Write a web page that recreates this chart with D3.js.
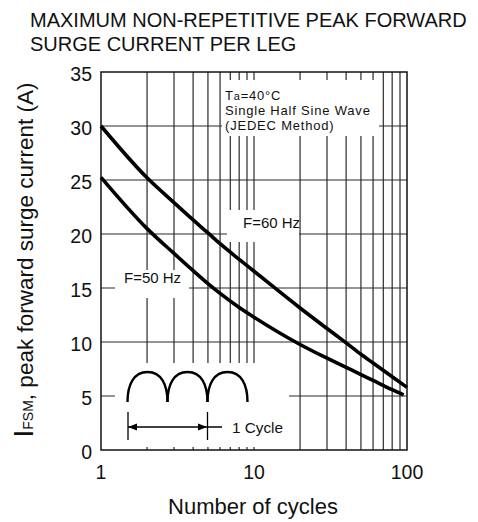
<!DOCTYPE html>
<html>
<head>
<meta charset="utf-8">
<script src="https://cdn.jsdelivr.net/npm/d3@7"></script>
<style>
  html, body { margin: 0; padding: 0; background: #fff; }
  svg { display: block; }
  text { font-family: "Liberation Sans", Arial, Helvetica, sans-serif; fill: #111; }
</style>
</head>
<body>
<svg id="chart" width="478" height="522"></svg>
<script>
// ---- data ----
const titleLines = ["MAXIMUM NON-REPETITIVE PEAK FORWARD", "SURGE CURRENT PER LEG"];
const xTickValues = [1, 10, 100];
const xTickLabels = ["1", "10", "100"];
const yTickValues = [0, 5, 10, 15, 20, 25, 30, 35];
const yTickLabels = ["0", "5", "10", "15", "20", "25", "30", "35"];
const cycles60 = [1, 2, 3, 4, 5, 6, 8, 10, 20, 30, 40, 50, 60, 80, 100];
const surge60  = [30.0, 25.2, 22.9, 21.3, 20.1, 19.1, 17.65, 16.55, 13.15, 11.25, 9.92, 8.86, 8.05, 6.78, 5.8];
const cycles50 = [1, 2, 3, 4, 5, 6, 8, 10, 20, 30, 40, 50, 60, 80, 95];
const surge50  = [25.25, 20.5, 18.2, 16.6, 15.4, 14.5, 13.2, 12.3, 9.77, 8.5, 7.64, 6.99, 6.44, 5.58, 5.1];
const seriesLabels = ["F=60 Hz", "F=50 Hz"];
const noteLines = ["=40°C", "Single Half Sine Wave", "(JEDEC Method)"];

// ---- chart ----
const svg = d3.select("#chart");
const x = d3.scaleLog().domain([1, 100]).range([101, 407]);
const y = d3.scaleLinear().domain([0, 35]).range([450, 72]);

// title
svg.selectAll("text.title").data(titleLines).join("text")
  .attr("class", "title")
  .attr("x", 30).attr("y", (d, i) => 27 + i * 24)
  .attr("font-size", 20)
  .text(d => d);

// grid
const minorX = [];
[1, 10].forEach(dec => { for (let k = 2; k <= 9; k++) minorX.push(dec * k); });
minorX.push(10);
const grid = svg.append("g").attr("stroke", "#2a2a2a").attr("stroke-width", 1.2);
grid.selectAll("line.vx").data(minorX).join("line")
  .attr("x1", d => x(d)).attr("x2", d => x(d))
  .attr("y1", y(35)).attr("y2", y(0));
grid.selectAll("line.hy").data(yTickValues.filter(v => v > 0 && v < 35)).join("line")
  .attr("x1", x(1)).attr("x2", x(100))
  .attr("y1", d => y(d)).attr("y2", d => y(d));

// white masks behind annotations
const masks = [
  [222, 80, 157, 56],   // condition note
  [227, 210, 72, 32],   // F=60 label
  [115, 270, 74, 28],   // F=50 label
  [115, 363, 174, 84]   // waveform sketch
];
svg.append("g").selectAll("rect").data(masks).join("rect")
  .attr("x", d => d[0]).attr("y", d => d[1])
  .attr("width", d => d[2]).attr("height", d => d[3])
  .attr("fill", "#fff");

// frame
svg.append("rect")
  .attr("x", x(1)).attr("y", y(35))
  .attr("width", x(100) - x(1)).attr("height", y(0) - y(35))
  .attr("fill", "none").attr("stroke", "#111").attr("stroke-width", 1.5);

// curves
const line = d3.line().x(d => x(d[0])).y(d => y(d[1])).curve(d3.curveMonotoneX);
svg.append("path").datum(cycles60.map((c, i) => [c, surge60[i]]))
  .attr("d", line).attr("fill", "none").attr("stroke", "#000").attr("stroke-width", 3.6);
svg.append("path").datum(cycles50.map((c, i) => [c, surge50[i]]))
  .attr("d", line).attr("fill", "none").attr("stroke", "#000").attr("stroke-width", 3.6);

// tick labels
svg.selectAll("text.yt").data(yTickValues).join("text")
  .attr("class", "yt")
  .attr("x", 92).attr("y", d => y(d) + 9)
  .attr("text-anchor", "end").attr("font-size", 19.5)
  .text((d, i) => yTickLabels[i]);
svg.selectAll("text.xt").data(xTickValues).join("text")
  .attr("class", "xt")
  .attr("x", d => x(d)).attr("y", 479)
  .attr("text-anchor", "middle").attr("font-size", 19.5)
  .text((d, i) => xTickLabels[i]);

// axis titles
svg.append("text").attr("x", 253).attr("y", 514)
  .attr("text-anchor", "middle").attr("font-size", 22)
  .text("Number of cycles");
const yl = svg.append("text")
  .attr("transform", "translate(33,260) rotate(-90)")
  .attr("text-anchor", "middle");
yl.append("tspan").attr("font-size", 28).text("I");
yl.append("tspan").attr("font-size", 14).text("FSM");
yl.append("tspan").attr("font-size", 22.5).text(", peak forward surge current (A)");

// condition note
const note = svg.append("g").attr("font-size", 13).attr("letter-spacing", 0.8);
const t0 = note.append("text").attr("x", 225).attr("y", 100);
t0.append("tspan").text("T");
t0.append("tspan").attr("font-size", 11).text("a");
t0.append("tspan").text(noteLines[0]);
note.append("text").attr("x", 225).attr("y", 115).text(noteLines[1]);
note.append("text").attr("x", 225).attr("y", 130).text(noteLines[2]);

// series labels
svg.append("text").attr("x", 243).attr("y", 228).attr("font-size", 15).text(seriesLabels[0]);
svg.append("text").attr("x", 124).attr("y", 283).attr("font-size", 15).text(seriesLabels[1]);

// waveform sketch (three half-sine arches)
const arch = svg.append("g").attr("fill", "none").attr("stroke", "#000").attr("stroke-width", 2.4);
const archStarts = [127.5, 167.5, 207.5];
archStarts.forEach(s => {
  const p = d3.path();
  p.moveTo(s, 402);
  p.bezierCurveTo(s, 385, s + 6, 372, s + 20, 372);
  p.bezierCurveTo(s + 34, 372, s + 40, 385, s + 40, 402);
  arch.append("path").attr("d", p.toString());
});

// cycle marker
const mk = svg.append("g").attr("stroke", "#000").attr("stroke-width", 1.3);
mk.append("line").attr("x1", 128).attr("x2", 128).attr("y1", 412).attr("y2", 440);
mk.append("line").attr("x1", 207.5).attr("x2", 207.5).attr("y1", 412).attr("y2", 440);
mk.append("line").attr("x1", 128).attr("x2", 222).attr("y1", 427).attr("y2", 427);
svg.append("path").attr("d", "M128,427 L137,423.5 L137,430.5 Z").attr("fill", "#000");
svg.append("path").attr("d", "M207,427 L198,423.5 L198,430.5 Z").attr("fill", "#000");
svg.append("text").attr("x", 232).attr("y", 433).attr("font-size", 15.3).text("1 Cycle");
</script>
</body>
</html>
